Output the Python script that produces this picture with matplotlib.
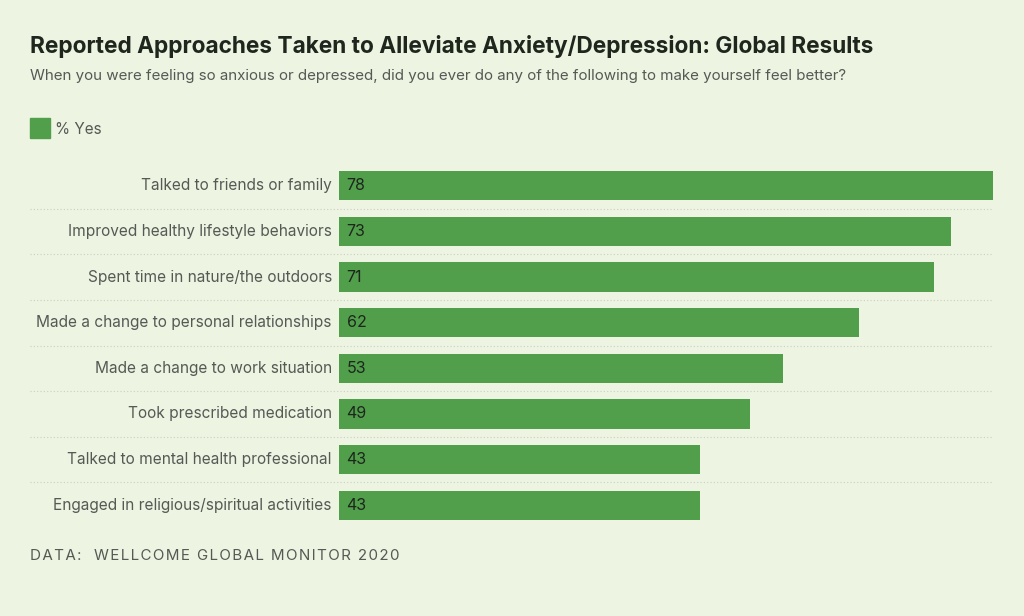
import matplotlib.pyplot as plt
from matplotlib.patches import Rectangle

categories = [
    "Talked to friends or family",
    "Improved healthy lifestyle behaviors",
    "Spent time in nature/the outdoors",
    "Made a change to personal relationships",
    "Made a change to work situation",
    "Took prescribed medication",
    "Talked to mental health professional",
    "Engaged in religious/spiritual activities",
]
values = [78, 73, 71, 62, 53, 49, 43, 43]

BG = "#edf4e2"
GREEN = "#519f4b"
DARK = "#1e261e"
GREY = "#555a55"

plt.rcParams["font.family"] = ["Inter", "DejaVu Sans"]

W, H = 1024, 616
fig = plt.figure(figsize=(W / 100, H / 100), dpi=100, facecolor=BG)

# axes placed in pixel terms: bars from x=339 to 993, rows 162..527
ax = fig.add_axes([339 / W, 1 - 528 / H, (993 - 339) / W, (528 - 163) / H])
ax.set_facecolor(BG)
ax.set_xlim(0, 78)
ax.set_ylim(len(values) - 0.5, -0.5)
ax.axis("off")

ypos = list(range(len(values)))
ax.barh(ypos, values, height=0.64, color=GREEN)

for y, v, c in zip(ypos, values, categories):
    ax.text(0.9, y, str(v), va="center", ha="left", fontsize=11.5, color=DARK)
    ax.text(-0.85, y, c, va="center", ha="right", fontsize=11.1, color=GREY)

# dotted separators between rows
x0 = (30 - 339) / (993 - 339)
for y in ypos[:-1]:
    ax.plot([x0, 1], [y + 0.5, y + 0.5], transform=ax.get_yaxis_transform(),
            color="#c9cfc4", lw=0.8, ls=(0, (1, 2)), clip_on=False)

fig.text(30 / W, 1 - 46 / H, "Reported Approaches Taken to Alleviate Anxiety/Depression: Global Results",
         fontsize=16.3, fontweight="bold", color=DARK, va="center", ha="left")
fig.text(30 / W, 1 - 76 / H,
         "When you were feeling so anxious or depressed, did you ever do any of the following to make yourself feel better?",
         fontsize=10.9, color=GREY, va="center", ha="left")

fig.patches.append(Rectangle((30 / W, 1 - 138 / H), 20 / W, 20 / H,
                             transform=fig.transFigure, color=GREEN))
fig.text(55 / W, 1 - 129 / H, "% Yes", fontsize=11, color=GREY, va="center", ha="left")

footer = "\u200a".join("DATA:  WELLCOME GLOBAL MONITOR 2020")
fig.text(30 / W, 1 - 556 / H, footer, fontsize=10.9, color=GREY, va="center", ha="left")

fig.savefig("out.png", dpi=100, facecolor=BG)
